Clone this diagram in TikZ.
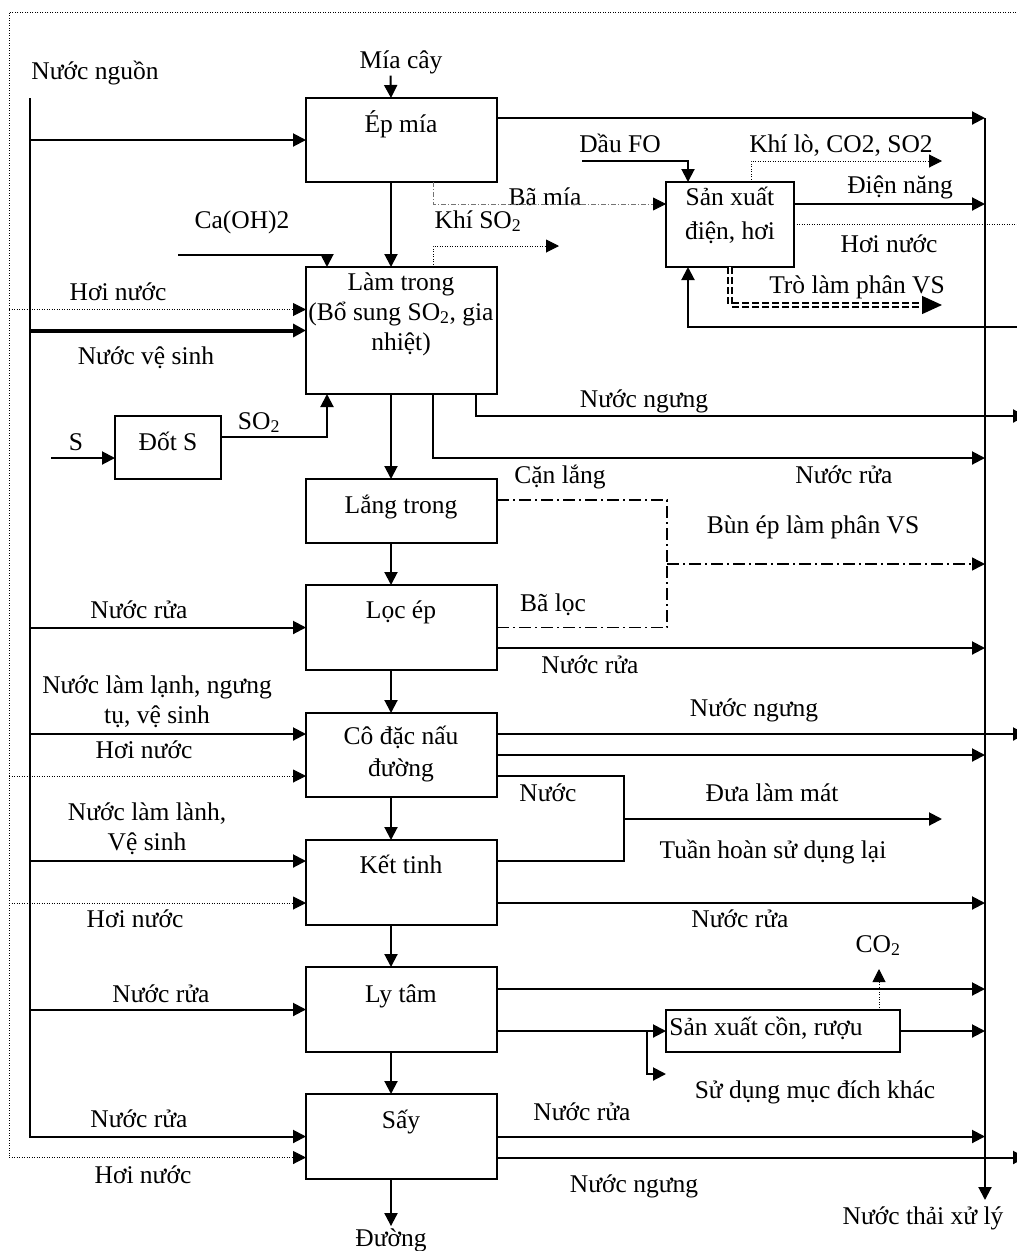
\documentclass[tikz,border=0pt]{standalone}
\usepackage{fontspec}
\setmainfont{Liberation Serif}
\usetikzlibrary{arrows.meta}
\begin{document}
\begin{tikzpicture}[x=1pt,y=-1pt,
  every node/.style={font=\fontsize{25.5}{30}\selectfont},
  box/.style={draw, line width=2pt, anchor=north west, inner sep=0pt, outer sep=0pt},
  lab/.style={anchor=base, inner sep=2pt},
  mlab/.style={anchor=center, inner sep=2pt, align=center},
  tip/.style={-{Triangle[length=13pt,width=13pt]}},
  ln/.style={line width=2pt},
  arr/.style={ln, tip},
  thickarr/.style={line width=4pt, tip},
  dot/.style={line width=1pt, dash pattern=on 1pt off 1.5pt},
  dotarr/.style={dot, tip},
  bamia/.style={line width=0.8pt, draw=black!55, dash pattern=on 5pt off 2pt on 1pt off 2pt, -{Triangle[length=13pt,width=13pt,color=black]}},
  dd/.style={line width=1.5pt, dash pattern=on 12pt off 4pt on 2pt off 4pt},
  ddarr/.style={dd, tip},
  dbl/.style={double, double distance=2.5pt, line width=1.3pt, dash pattern=on 7pt off 3pt, -{Triangle[length=20pt,width=18pt]}}
]
\fill[white] (0,0) rectangle (1017,1251);
\useasboundingbox (0,0) rectangle (1017,1251);

% ---------- boxes ----------
\node[box, minimum width=191pt, minimum height=84pt]  (ep) at (306,98) {};
\node[box, minimum width=191pt, minimum height=127pt] (lt) at (306,267) {};
\node[box, minimum width=191pt, minimum height=64pt]  (lg) at (306,479) {};
\node[box, minimum width=191pt, minimum height=85pt]  (lo) at (306,585) {};
\node[box, minimum width=191pt, minimum height=84pt]  (cd) at (306,713) {};
\node[box, minimum width=191pt, minimum height=85pt]  (kt) at (306,840) {};
\node[box, minimum width=191pt, minimum height=85pt]  (ly) at (306,967) {};
\node[box, minimum width=191pt, minimum height=85pt]  (sy) at (306,1094) {};
\node[box, minimum width=106pt, minimum height=63pt]  (ds) at (115,416) {};
\node[box, minimum width=128pt, minimum height=85pt]  (sx) at (666,182) {};
\node[box, minimum width=234pt, minimum height=42pt]  (sc) at (666,1010) {};

% ---------- box texts ----------
\node[lab] (tep) at (401,132) {Ép mía};
\node[mlab] (tlt) at (401,314) {Làm trong\\(Bổ sung SO\textsubscript{2}, gia\\nhiệt)};
\node[lab] (tlg) at (401,513) {Lắng trong};
\node[lab] (tlo) at (401,618) {Lọc ép};
\node[mlab] (tcd) at (401,754) {Cô đặc nấu\\[2pt]đường};
\node[lab] (tkt) at (401,873) {Kết tinh};
\node[lab] (tly) at (401,1002) {Ly tâm};
\node[lab] (tsy) at (401,1128) {Sấy};
\node[lab] (tds) at (168,450) {Đốt S};
\node[mlab] (tsx) at (730,215) {Sản xuất\\[4pt]điện, hơi};
\node[lab] (tsc) at (766,1035) {Sản xuất cồn, rượu};

% ---------- labels ----------
\node[lab] (tnguon) at (95,79) {Nước nguồn};
\node[lab] (tmia) at (401,68) {Mía cây};
\node[lab] (tduong) at (391,1246) {Đường};
\node[lab] (tca) at (242,228) {Ca(OH)2};
\node[lab] (tS) at (76,450) {S};
\node[lab] (tso2) at (259,429) {SO\textsubscript{2}};
\node[lab] (thn1) at (118,300) {Hơi nước};
\node[lab] (tnvs) at (146,364) {Nước vệ sinh};
\node[lab] (tnr1) at (139,618) {Nước rửa};
\node[mlab] (tnll) at (157,702) {Nước làm lạnh, ngưng\\tụ, vệ sinh};
\node[lab] (thn2) at (144,758) {Hơi nước};
\node[mlab] (tnlh) at (147,829) {Nước làm lành,\\Vệ sinh};
\node[lab] (thn3) at (135,927) {Hơi nước};
\node[lab] (tnr2) at (161,1002) {Nước rửa};
\node[lab] (tnr3) at (139,1127) {Nước rửa};
\node[lab] (thn4) at (143,1183) {Hơi nước};
\node[lab] (tkso2) at (478,228) {Khí SO\textsubscript{2}};
\node[lab] (tbam) at (545,205) {Bã mía};
\node[lab] (tdau) at (620,152) {Dầu FO};
\node[lab] (tkhilo) at (841,152) {Khí lò, CO2, SO2};
\node[lab] (tdien) at (900,193) {Điện năng};
\node[lab] (thn5) at (889,252) {Hơi nước};
\node[lab] (ttro) at (857,293) {Trò làm phân VS};
\node[lab] (tnn1) at (644,407) {Nước ngưng};
\node[lab] (tnr4) at (844,483) {Nước rửa};
\node[lab] (tcan) at (560,483) {Cặn lắng};
\node[lab] (tbun) at (813,533) {Bùn ép làm phân VS};
\node[lab] (tbaloc) at (553,611) {Bã lọc};
\node[lab] (tnr5) at (590,673) {Nước rửa};
\node[lab] (tnn2) at (754,716) {Nước ngưng};
\node[lab] (tnuoc) at (548,801) {Nước};
\node[lab] (tdua) at (772,801) {Đưa làm mát};
\node[lab] (ttuan) at (773,858) {Tuần hoàn sử dụng lại};
\node[lab] (tnr6) at (740,927) {Nước rửa};
\node[lab] (tco2) at (878,952) {CO\textsubscript{2}};
\node[lab] (tkhac) at (815,1098) {Sử dụng mục đích khác};
\node[lab] (tnr7) at (582,1120) {Nước rửa};
\node[lab] (tnn3) at (634,1192) {Nước ngưng};
\node[lab] (tthai) at (923,1224) {Nước thải xử lý};

% ---------- named points ----------
\coordinate (fr) at (9,12);
\coordinate (frR) at (1026,12);
\coordinate (bus) at (30,98);
\coordinate (col) at (985,118);
\coordinate (colend) at (985,1200);
\coordinate (redge) at (1026,0);
\coordinate (lt-h) at ([yshift=21pt]lt.west);
\coordinate (cd-a) at ([yshift=21pt]cd.west);
\coordinate (cd-b) at ([yshift=-21pt]cd.west);
\coordinate (kt-a) at ([yshift=21.5pt]kt.west);
\coordinate (kt-b) at ([yshift=-20.5pt]kt.west);
\coordinate (sy-b) at ([yshift=-21pt]sy.west);

% ---------- inputs from the left ----------
\draw[arr] (bus |- ep.west) -- (ep.west);
\draw[dotarr] (fr |- lt-h) -- (lt-h);
\draw[thickarr] (bus |- lt.west) -- (lt.west);
\draw[arr] (bus |- lo.west) -- (lo.west);
\draw[arr] (bus |- cd-a) -- (cd-a);
\draw[dotarr] (fr |- cd-b) -- (cd-b);
\draw[arr] (bus |- kt-a) -- (kt-a);
\draw[dotarr] (fr |- kt-b) -- (kt-b);
\draw[arr] (bus |- ly.west) -- (ly.west);
\draw[arr] (bus) |- (sy.west);
\draw[dotarr] (frR) -- (fr) |- (sy-b);

% ---------- main column ----------
\draw[arr] ([xshift=-10.5pt]tmia.south) -- ([xshift=-10.5pt]ep.north);
\draw[arr] ([xshift=-10.5pt]ep.south) -- ([xshift=-10.5pt]lt.north);
\draw[arr] ([xshift=-10.5pt]lt.south) -- ([xshift=-10.5pt]lg.north);
\draw[arr] ([xshift=-10.5pt]lg.south) -- ([xshift=-10.5pt]lo.north);
\draw[arr] ([xshift=-10.5pt]lo.south) -- ([xshift=-10.5pt]cd.north);
\draw[arr] ([xshift=-10.5pt]cd.south) -- ([xshift=-10.5pt]kt.north);
\draw[arr] ([xshift=-10.5pt]kt.south) -- ([xshift=-10.5pt]ly.north);
\draw[arr] ([xshift=-10.5pt]ly.south) -- ([xshift=-10.5pt]sy.north);
\draw[arr] ([xshift=-10.5pt]sy.south) -- (tduong.north);

% Ca(OH)2, S, SO2
\coordinate (caS) at (178,255);
\draw[arr] (caS) -| ([xshift=21pt]lt.north west);
\coordinate (sS) at (51,458);
\draw[arr] (sS) -- (sS -| ds.west);
\draw[arr] ([yshift=10.5pt]ds.east) -| ([xshift=21pt]lt.south west);

% ---------- collector ----------
\draw[arr] (col) -- (colend);
\coordinate (ep-o) at ([yshift=22pt]ep.east);
\draw[arr] (ep-o) -- (ep-o -| col);

% ---------- power / steam unit ----------
\draw[bamia] ([xshift=-64pt]ep.south east) |- ([yshift=20.5pt]sx.west);
\coordinate (kso2) at (559,246);
\draw[dotarr] ([xshift=-64pt]lt.north east) |- (kso2);
\coordinate (dauS) at (582,161);
\draw[arr] (dauS) -| ([xshift=22pt]sx.north west);
\coordinate (khilo) at (942,161);
\draw[dotarr] ([xshift=85pt]sx.north west) |- (khilo);
\coordinate (sx-d) at ([yshift=20.5pt]sx.east);
\draw[arr] (sx-d) -- (sx-d -| col);
\draw[dot] (sx.east) -- (sx.east -| redge);
\coordinate (tro) at (942,305);
\draw[dbl] ([xshift=64pt]sx.south west) |- (tro);
\coordinate (ret) at (1026,327);
\draw[arr] (ret) -| ([xshift=22pt]sx.south west);

% ---------- Lam trong outputs ----------
\coordinate (nn1) at (1026,416);
\draw[arr] ([xshift=-21pt]lt.south east) |- (nn1);
\coordinate (nr1) at (985,458);
\draw[arr] ([xshift=-64pt]lt.south east) |- (nr1);

% ---------- sludge ----------
\coordinate (jn) at (667,564);
\draw[dd] ([yshift=11pt]lg.east) -| (jn);
\draw[dd] (lo.east) -| (jn);
\draw[ddarr] (jn) -- (jn -| col);

% ---------- other outputs ----------
\coordinate (lo-o) at ([yshift=-20.5pt]lo.east);
\draw[arr] (lo-o) -- (lo-o -| col);
\coordinate (cd-c) at ([yshift=21pt]cd.east);
\draw[arr] (cd-c) -- (cd-c -| redge);
\draw[arr] (cd.east) -- (cd.east -| col);
\coordinate (cd-d) at ([yshift=-21pt]cd.east);
\coordinate (kt-c) at ([yshift=21.5pt]kt.east);
\coordinate (nx) at (624,819);
\draw[ln] (cd-d) -| (nx) |- (kt-c);
\coordinate (mat) at (942,819);
\draw[arr] (nx) -- (mat);
\coordinate (kt-d) at ([yshift=-20.5pt]kt.east);
\draw[arr] (kt-d) -- (kt-d -| col);
\coordinate (ly-a) at ([yshift=20.5pt]ly.east);
\draw[arr] (ly-a) -- (ly-a -| col);
\coordinate (ly-b) at ([yshift=-21.5pt]ly.east);
\draw[arr] (ly-b) -- (ly-b -| sc.west);
\coordinate (br) at (647,1031);
\coordinate (khac) at (666,1074);
\draw[arr] (br) |- (khac);
\draw[arr] (sc.east) -- (sc.east -| col);
\coordinate (co2a) at (879,969);
\draw[dotarr] (co2a |- sc.north) -- (co2a);
\draw[arr] (sy.east) -- (sy.east -| col);
\coordinate (sy-c) at ([yshift=-21pt]sy.east);
\draw[arr] (sy-c) -- (sy-c -| redge);
\end{tikzpicture}
\end{document}
